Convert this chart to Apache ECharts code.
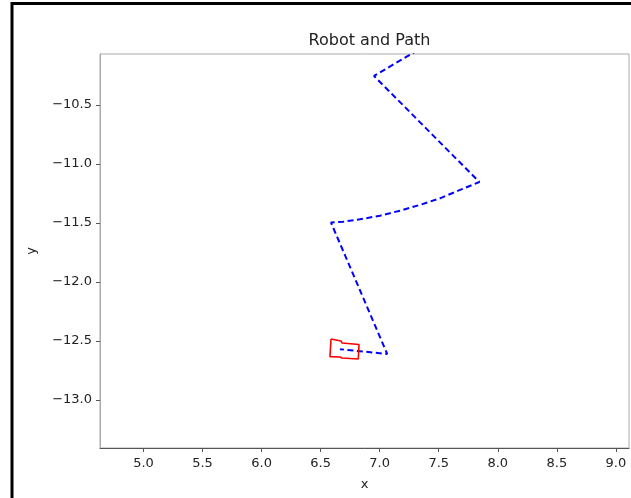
<!DOCTYPE html>
<html>
<head>
<meta charset="utf-8">
<title>Robot and Path</title>
<script src="https://cdn.jsdelivr.net/npm/echarts@6/dist/echarts.min.js"></script>
<style>
  html, body { margin: 0; padding: 0; background: #fff; }
  #container { width: 631px; height: 498px; }
</style>
</head>
<body>
<div id="container"></div>
<script>
var dom = document.getElementById('container');
var myChart = echarts.init(dom, null, { renderer: 'canvas' });

// path of the robot (blue dashed)
var pathX = [7.324, 6.952, 7.844, 7.680, 7.511, 7.341, 7.172, 7.003, 6.833, 6.692, 6.588, 7.064, 6.664];
var pathY = [-10.034, -10.254, -11.153, -11.220, -11.291, -11.347, -11.396, -11.438, -11.469, -11.489, -11.497, -12.610, -12.570];

// robot outline (red)
var robotX = [6.588, 6.672, 6.681, 6.825, 6.819, 6.681, 6.664, 6.579, 6.588];
var robotY = [-12.483, -12.500, -12.517, -12.530, -12.653, -12.644, -12.636, -12.633, -12.483];

// tick values
var xTicks = [5.0, 5.5, 6.0, 6.5, 7.0, 7.5, 8.0, 8.5, 9.0];
var yTicks = [-13.0, -12.5, -12.0, -11.5, -11.0, -10.5];

function pairs(xs, ys) {
  return xs.map(function (x, i) { return [x, ys[i]]; });
}
function fmt(v) {
  return v.toFixed(1).replace('-', '\u2212');
}

var font = 'DejaVu Sans';

var option = {
  backgroundColor: '#fff',
  animation: false,
  title: {
    text: 'Robot and Path',
    left: 364.5,
    textAlign: 'center',
    top: 28,
    textStyle: { fontFamily: font, fontSize: 16, fontWeight: 'normal', color: '#222' }
  },
  grid: {
    left: 100,
    right: 2,
    top: 54,
    bottom: 50,
    show: true,
    borderColor: '#aaa',
    borderWidth: 1
  },
  xAxis: {
    type: 'value',
    min: 4.632,
    max: 9.111,
    name: 'x',
    nameLocation: 'middle',
    nameGap: 30,
    nameTextStyle: { fontFamily: font, fontSize: 13, color: '#222' },
    axisLine: { show: true, lineStyle: { color: '#555', width: 1 } },
    axisTick: { show: true, inside: false, length: 4, customValues: xTicks, lineStyle: { color: '#555' } },
    axisLabel: {
      customValues: xTicks,
      formatter: fmt,
      fontFamily: font, fontSize: 13, color: '#222', margin: 9
    },
    splitLine: { show: false }
  },
  yAxis: {
    type: 'value',
    min: -13.407,
    max: -10.068,
    name: 'y',
    nameLocation: 'middle',
    nameGap: 62,
    nameTextStyle: { fontFamily: font, fontSize: 13, color: '#222' },
    axisLine: { show: true, lineStyle: { color: '#aaa', width: 1 } },
    axisTick: { show: true, inside: false, length: 4, customValues: yTicks, lineStyle: { color: '#555' } },
    axisLabel: {
      customValues: yTicks,
      formatter: fmt,
      fontFamily: font, fontSize: 13, color: '#222', margin: 8
    },
    splitLine: { show: false }
  },
  graphic: [{
    type: 'rect',
    shape: { x: 12, y: 3.5, width: 700, height: 600 },
    style: { fill: 'none', stroke: '#000', lineWidth: 3 },
    silent: true,
    z: 100
  }],
  series: [
    {
      name: 'path',
      type: 'line',
      data: pairs(pathX, pathY),
      showSymbol: false,
      clip: true,
      lineStyle: { color: '#0000ff', width: 2, type: [6, 3.5] }
    },
    {
      name: 'robot',
      type: 'line',
      data: pairs(robotX, robotY),
      showSymbol: false,
      clip: true,
      lineStyle: { color: '#ff0000', width: 1.6 }
    }
  ]
};

myChart.setOption(option);
window.addEventListener('resize', myChart.resize);
</script>
</body>
</html>
